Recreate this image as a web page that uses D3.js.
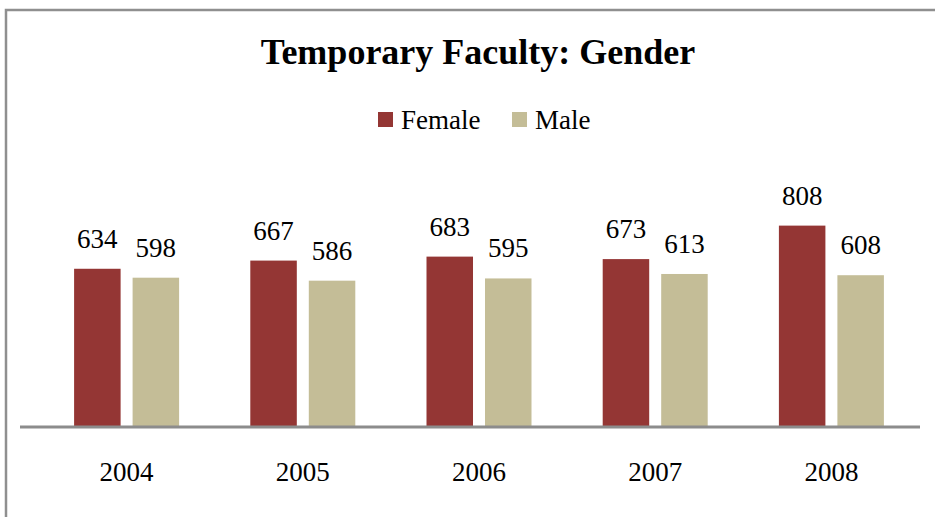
<!doctype html>
<html>
<head>
<meta charset="utf-8">
<title>Temporary Faculty: Gender</title>
<script src="https://cdn.jsdelivr.net/npm/d3@7"></script>
<style>
body { margin: 0; background: #fff; }
text { font-family: "Liberation Serif", "DejaVu Serif", serif; fill: #000; }
</style>
</head>
<body>
<script>
var years = ["2004", "2005", "2006", "2007", "2008"];
var series = ["Female", "Male"];
var female = [634, 667, 683, 673, 808];
var male = [598, 586, 595, 613, 608];
var colors = ["#943634", "#c4bd97"];

var width = 935, height = 517;
var baseY = 426;

var svg = d3.select("body").append("svg")
    .attr("width", width)
    .attr("height", height);

// frame
svg.append("rect")
    .attr("x", 6).attr("y", 10)
    .attr("width", 940).attr("height", 520)
    .attr("fill", "none")
    .attr("stroke", "#8f8f8f")
    .attr("stroke-width", 2.5);

var x = d3.scaleBand().domain(years).range([38.5, 919.5]);
var xs = d3.scaleBand().domain(series).range([0, 105]).paddingInner(0.205);
var y = d3.scaleLinear().domain([0, 1000]).range([baseY, baseY - 248]);

var data = years.map(function(yr, i) {
    return { year: yr, values: [female[i], male[i]] };
});

var groups = svg.selectAll(".grp")
    .data(data)
    .enter().append("g")
    .attr("class", "grp")
    .attr("transform", function(d) { return "translate(" + (x(d.year) + x.bandwidth() / 2 - 52.5) + ",0)"; });

groups.selectAll("rect")
    .data(function(d) { return d.values.map(function(v, j) { return { s: series[j], v: v, c: colors[j] }; }); })
    .enter().append("rect")
    .attr("x", function(d) { return xs(d.s); })
    .attr("y", function(d) { return y(d.v); })
    .attr("width", xs.bandwidth())
    .attr("height", function(d) { return baseY - y(d.v); })
    .attr("fill", function(d) { return d.c; });

groups.selectAll(".val")
    .data(function(d) { return d.values.map(function(v, j) { return { s: series[j], v: v }; }); })
    .enter().append("text")
    .attr("class", "val")
    .attr("x", function(d) { return xs(d.s) + xs.bandwidth() / 2; })
    .attr("y", function(d) { return y(d.v) - 21; })
    .attr("text-anchor", "middle")
    .style("font-size", "27px")
    .text(function(d) { return d.v; });

// axis line
svg.append("line")
    .attr("x1", 20).attr("x2", 920)
    .attr("y1", baseY + 1).attr("y2", baseY + 1)
    .attr("stroke", "#8c8c8c")
    .attr("stroke-width", 3);

var xAxis = svg.append("g")
    .attr("transform", "translate(0," + baseY + ")")
    .call(d3.axisBottom(x).tickSize(0).tickPadding(36));
xAxis.select(".domain").remove();
xAxis.selectAll("text")
    .style("font-family", "Liberation Serif, serif")
    .style("font-size", "27px")
    .attr("fill", "#000");

// title
svg.append("text")
    .attr("x", 478).attr("y", 64)
    .attr("text-anchor", "middle")
    .style("font-size", "36px")
    .style("font-weight", "bold")
    .text("Temporary Faculty: Gender");

// legend
var legX = [378, 512];
var leg = svg.selectAll(".leg")
    .data(series)
    .enter().append("g")
    .attr("class", "leg")
    .attr("transform", function(d, i) { return "translate(" + legX[i] + ",112)"; });
leg.append("rect")
    .attr("width", 15).attr("height", 15)
    .attr("fill", function(d, i) { return colors[i]; });
leg.append("text")
    .attr("x", 23).attr("y", 17)
    .style("font-size", "27px")
    .text(function(d) { return d; });
</script>
</body>
</html>
